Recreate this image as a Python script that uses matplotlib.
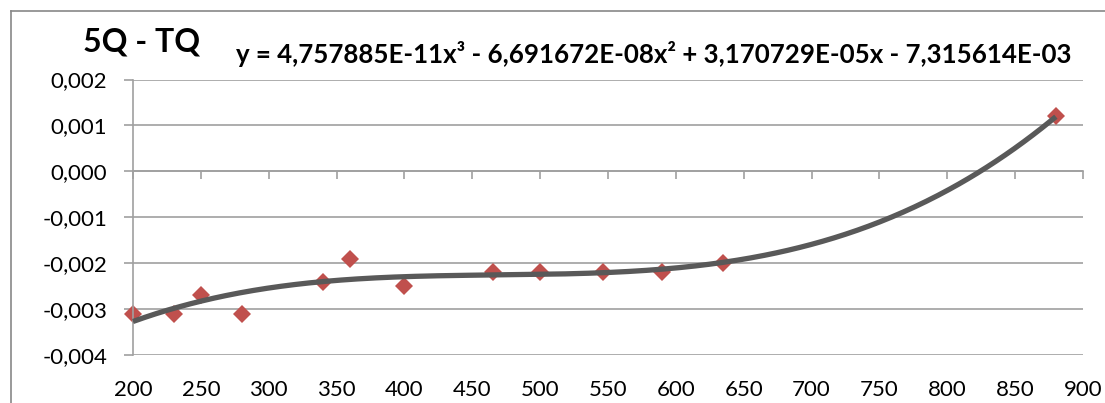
import numpy as np
import matplotlib
matplotlib.use("Agg")
import matplotlib.pyplot as plt
from matplotlib.ticker import FuncFormatter
from matplotlib.lines import Line2D

# ---- data ----
x_vals = [200, 230, 250, 280, 340, 360, 400, 465, 500, 546, 590, 635, 880]
y_vals = [-0.0031, -0.0031, -0.0027, -0.0031, -0.0024, -0.0019, -0.0025,
          -0.0022, -0.0022, -0.0022, -0.0022, -0.0020, 0.0012]
trend_coefs = [4.757885e-11, -6.691672e-08, 3.170729e-05, -7.315614e-03]
title_text = "5Q - TQ"
equation_text = "y = 4,757885E-11x³ - 6,691672E-08x² + 3,170729E-05x - 7,315614E-03"
x_ticks = [200, 250, 300, 350, 400, 450, 500, 550, 600, 650, 700, 750, 800, 850, 900]
y_ticks = [-0.004, -0.003, -0.002, -0.001, 0.0, 0.001, 0.002]

plt.rcParams['font.family'] = ['Lato', 'DejaVu Sans']

W, H = 1105, 403
fig = plt.figure(figsize=(W / 100, H / 100), dpi=100)
ax = fig.add_axes([133 / W, 1 - 355 / H, (1083 - 133) / W, (355 - 79.5) / H])

grid_c = '#A0A0A0'
ax.set_xlim(200, 900)
ax.set_ylim(-0.004, 0.002)
ax.set_yticks(y_ticks)
ax.yaxis.grid(True, color=grid_c, lw=1.2)
ax.set_axisbelow(True)

for s in ['top', 'right']:
    ax.spines[s].set_visible(False)
ax.spines['left'].set_color(grid_c)
ax.spines['left'].set_linewidth(1.2)
ax.spines['bottom'].set_position(('data', 0))
ax.spines['bottom'].set_color(grid_c)
ax.spines['bottom'].set_linewidth(1.2)

ax.set_xticks(x_ticks)
ax.tick_params(axis='x', direction='out', length=6, width=1.2, color=grid_c,
               labelbottom=False)
ax.tick_params(axis='y', direction='out', length=6.5, width=1.2, color=grid_c,
               labelsize=16, pad=12)
ax.yaxis.set_major_formatter(FuncFormatter(lambda v, p: f"{v:.3f}".replace('.', ',')
                                           if abs(v) > 1e-12 else "0,000"))

sec = ax.secondary_xaxis('bottom')
sec.set_xticks(x_ticks)
sec.spines['bottom'].set_visible(False)
sec.tick_params(axis='x', length=0, labelsize=16, pad=18)

# trendline
xs = np.linspace(min(x_vals), max(x_vals), 400)
ax.plot(xs, np.polyval(trend_coefs, xs), color='#595959', lw=3.8,
        solid_capstyle='butt', zorder=3, clip_on=False)
# points
ax.plot(x_vals, y_vals, linestyle='none', marker='D', markersize=9.5,
        color='#C0504D', markeredgewidth=0, zorder=2, clip_on=False)

# titles
fig.text(83 / W, 1 - 52 / H, title_text, fontsize=23, fontweight='bold',
         ha='left', va='baseline')
fig.text(236 / W, 1 - 63 / H, equation_text, fontsize=18.6, fontweight='bold',
         ha='left', va='baseline')

# outer frame
frame_c = '#888888'
fig.add_artist(Line2D([11 / W, 11 / W], [0, 1 - 10.5 / H], color=frame_c, lw=1.2))
fig.add_artist(Line2D([11 / W, 1], [1 - 10.5 / H, 1 - 10.5 / H], color=frame_c, lw=1.2))

fig.savefig('out.png', dpi=100)
